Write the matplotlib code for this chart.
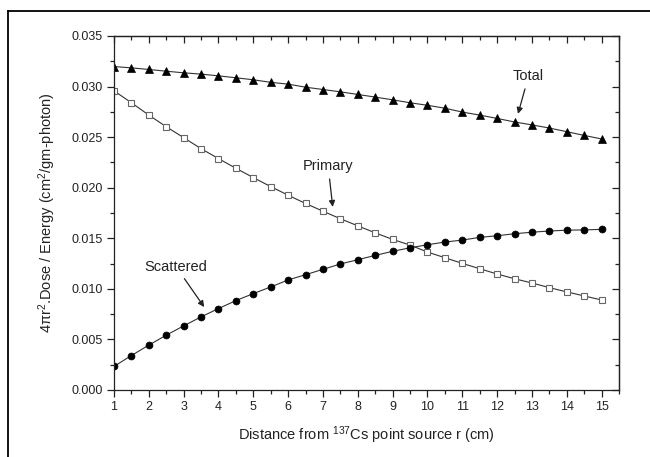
import matplotlib
matplotlib.use("Agg")
import matplotlib.pyplot as plt
from matplotlib.lines import Line2D
from matplotlib.ticker import MultipleLocator, FormatStrFormatter

plt.rcParams['font.family'] = ['Liberation Sans', 'DejaVu Sans']
plt.rcParams['mathtext.fontset'] = 'custom'
plt.rcParams['mathtext.rm'] = 'Liberation Sans'
plt.rcParams['mathtext.it'] = 'Liberation Sans:italic'

# distance from the point source (cm)
r_cm = [1.0, 1.5, 2.0, 2.5, 3.0, 3.5, 4.0, 4.5, 5.0, 5.5, 6.0, 6.5, 7.0, 7.5, 8.0,
        8.5, 9.0, 9.5, 10.0, 10.5, 11.0, 11.5, 12.0, 12.5, 13.0, 13.5, 14.0, 14.5, 15.0]

# 4*pi*r^2 * dose / energy
total = [0.03198, 0.03185, 0.03169, 0.03152, 0.03136, 0.03123, 0.03106, 0.03087,
         0.03067, 0.03042, 0.03024, 0.02994, 0.02971, 0.02948, 0.02922, 0.02896,
         0.02869, 0.02840, 0.02815, 0.02786, 0.02748, 0.02718, 0.02685, 0.02650,
         0.02621, 0.02590, 0.02554, 0.02517, 0.02482]
primary = [0.02958, 0.02840, 0.02718, 0.02603, 0.02495, 0.02386, 0.02288, 0.02192,
           0.02100, 0.02011, 0.01926, 0.01844, 0.01768, 0.01693, 0.01623, 0.01554,
           0.01489, 0.01433, 0.01364, 0.01308, 0.01252, 0.01199, 0.01147, 0.01100,
           0.01058, 0.01012, 0.00970, 0.00930, 0.00890]
scattered = [0.00233, 0.00341, 0.00444, 0.00542, 0.00634, 0.00723, 0.00805, 0.00884,
             0.00953, 0.01019, 0.01088, 0.01140, 0.01193, 0.01246, 0.01288, 0.01331,
             0.01371, 0.01406, 0.01436, 0.01463, 0.01482, 0.01509, 0.01525, 0.01545,
             0.01560, 0.01572, 0.01580, 0.01583, 0.01588]

W, H = 650, 457
fig = plt.figure(figsize=(W / 100, H / 100), dpi=100)
ax = fig.add_axes([114 / W, 1 - 390 / H, 505 / W, 354 / H])

line_kw = dict(color='#333333', linewidth=0.8)
ax.plot(r_cm, total, marker='^', markersize=5.5, markerfacecolor='black',
        markeredgecolor='black', markeredgewidth=0.5, **line_kw)
ax.plot(r_cm, primary, marker='s', markersize=4.5, markerfacecolor='white',
        markeredgecolor='#666666', markeredgewidth=0.8, **line_kw)
ax.plot(r_cm, scattered, marker='o', markersize=5, markerfacecolor='black',
        markeredgecolor='black', markeredgewidth=0.5, **line_kw)

ax.set_xlim(1, 15.5)
ax.set_ylim(0, 0.035)
ax.xaxis.set_major_locator(MultipleLocator(1))
ax.xaxis.set_minor_locator(MultipleLocator(0.5))
ax.yaxis.set_major_locator(MultipleLocator(0.005))
ax.yaxis.set_minor_locator(MultipleLocator(0.0025))
ax.yaxis.set_major_formatter(FormatStrFormatter('%.3f'))

tick_color = '#222222'
ax.tick_params(which='both', direction='out', top=False, right=False,
               colors=tick_color, labelcolor='#222222', labelsize=9)
ax.tick_params(which='major', length=5, width=0.9)
ax.tick_params(which='minor', length=3, width=0.9)
ax.tick_params(axis='x', pad=3)
ax.tick_params(axis='y', pad=3)

# inward ticks on the top and right edges
top = ax.secondary_xaxis('top')
top.set_xticks(range(1, 16))
top.xaxis.set_minor_locator(MultipleLocator(0.5))
top.tick_params(which='both', direction='in', labeltop=False, colors=tick_color)
top.tick_params(which='major', length=5, width=0.9)
top.tick_params(which='minor', length=3, width=0.9)
right = ax.secondary_yaxis('right')
right.yaxis.set_major_locator(MultipleLocator(0.005))
right.yaxis.set_minor_locator(MultipleLocator(0.0025))
right.tick_params(which='both', direction='in', labelright=False, colors=tick_color)
right.tick_params(which='major', length=5, width=0.9)
right.tick_params(which='minor', length=3, width=0.9)
for axis in (top, right):
    for s in axis.spines.values():
        s.set_linewidth(0.9)
        s.set_color(tick_color)

for s in ax.spines.values():
    s.set_linewidth(0.9)
    s.set_color(tick_color)

ax.set_xlabel('Distance from $^{137}$Cs point source r (cm)', fontsize=10.5,
              color='#222222', labelpad=8)
ax.set_ylabel('4\u03c0r$^2$.Dose / Energy (cm$^2$/gm-photon)', fontsize=10.5,
              color='#222222', labelpad=10)

arrow_kw = dict(arrowstyle='-|>', color='#222222', lw=0.9, mutation_scale=9,
                shrinkA=2, shrinkB=0)
ax.annotate('Total', xy=(12.6, 0.0273), xytext=(12.9, 0.0310),
            fontsize=10.5, ha='center', va='center', color='#222222',
            arrowprops=arrow_kw)
ax.annotate('Primary', xy=(7.28, 0.0181), xytext=(7.15, 0.0221),
            fontsize=10.5, ha='center', va='center', color='#222222',
            arrowprops=arrow_kw)
ax.annotate('Scattered', xy=(3.59, 0.0082), xytext=(2.78, 0.0122),
            fontsize=10.5, ha='center', va='center', color='#222222',
            arrowprops=arrow_kw)

# frame lines along the top and left of the figure
fig.add_artist(Line2D([8 / W, 1], [1 - 11 / H, 1 - 11 / H], color='black', lw=1.3))
fig.add_artist(Line2D([8 / W, 8 / W], [0, 1 - 11 / H], color='black', lw=1.3))

fig.savefig('out.png', dpi=100)
